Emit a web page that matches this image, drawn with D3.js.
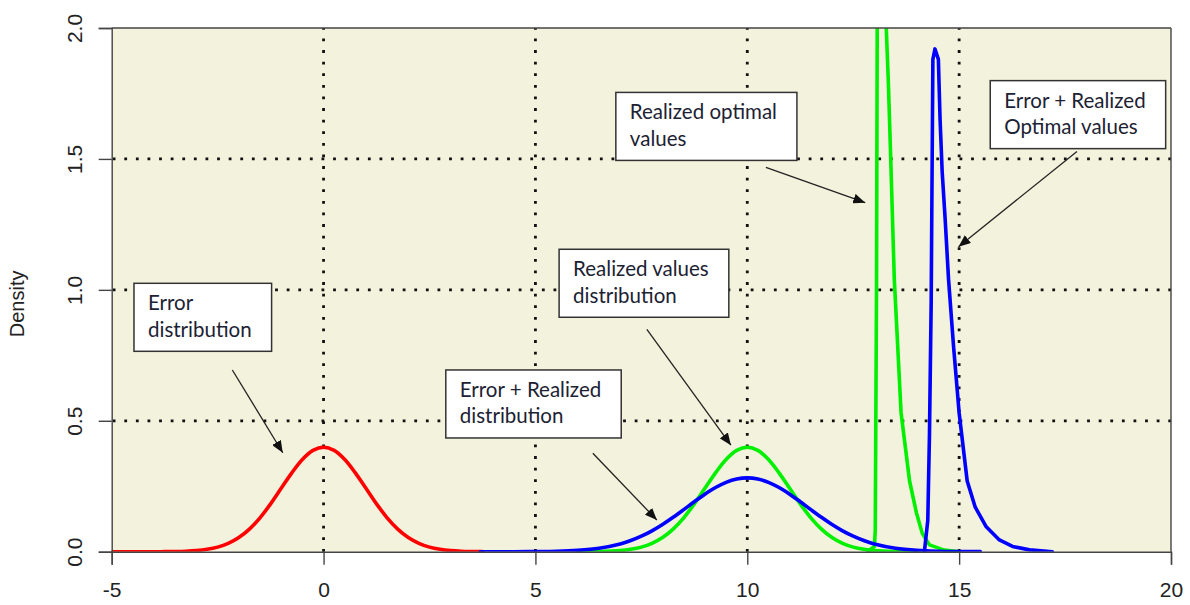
<!DOCTYPE html>
<html>
<head>
<meta charset="utf-8">
<script src="https://cdn.jsdelivr.net/npm/d3@7"></script>
<style>
  html, body { margin: 0; padding: 0; background: #ffffff; }
  svg { display: block; }
</style>
</head>
<body>
<svg id="chart" width="1190" height="605"></svg>
<script>
// Axis ticks
const xTicks = [-5, 0, 5, 10, 15, 20];
const yTicks = [0.0, 0.5, 1.0, 1.5, 2.0];
const xGrid = [0, 5, 10, 15];
const yGrid = [0.5, 1.0, 1.5];

// Error distribution (red)
const errX = [-5, -4.5, -4, -3.8, -3.75, -3.5, -3.25, -3, -2.75, -2.5, -2.25, -2, -1.75, -1.5, -1.25, -1, -0.75, -0.5, -0.25, 0,
              0.25, 0.5, 0.75, 1, 1.25, 1.5, 1.75, 2, 2.25, 2.5, 2.75, 3, 3.25, 3.5, 3.75];
const errY = [0.0, 0.0, 0.0, 0.0, 0.0004, 0.0009, 0.0020, 0.0044, 0.0091, 0.0175, 0.0317, 0.0540, 0.0863, 0.1295, 0.1826, 0.2420, 0.3011, 0.3521, 0.3867, 0.3989,
              0.3867, 0.3521, 0.3011, 0.2420, 0.1826, 0.1295, 0.0863, 0.0540, 0.0317, 0.0175, 0.0091, 0.0044, 0.0020, 0.0009, 0.0004];

// Realized values distribution (green)
const realX = [6.0, 6.5, 7.0, 7.25, 7.5, 7.75, 8.0, 8.25, 8.5, 8.75, 9.0, 9.25, 9.5, 9.75, 10.0,
               10.25, 10.5, 10.75, 11.0, 11.25, 11.5, 11.75, 12.0, 12.25, 12.5, 12.75, 13.0, 13.5, 14.0];
const realY = [0.0001, 0.0009, 0.0044, 0.0091, 0.0175, 0.0317, 0.0540, 0.0863, 0.1295, 0.1826, 0.2420, 0.3011, 0.3521, 0.3867, 0.3989,
               0.3867, 0.3521, 0.3011, 0.2420, 0.1826, 0.1295, 0.0863, 0.0540, 0.0317, 0.0175, 0.0091, 0.0044, 0.0009, 0.0001];

// Error + Realized distribution (blue)
const sumX = [3.7, 4.5, 5.0, 5.5, 6.0, 6.5, 7.0, 7.25, 7.5, 7.75, 8.0, 8.25, 8.5, 8.75, 9.0, 9.25, 9.5, 9.75, 10.0,
              10.25, 10.5, 10.75, 11.0, 11.25, 11.5, 11.75, 12.0, 12.25, 12.5, 12.75, 13.0, 13.5, 14.0, 14.5, 15.0, 15.5];
const sumY = [0.0, 0.00005, 0.0005, 0.0015, 0.0052, 0.0132, 0.0297, 0.0426, 0.0591, 0.0796, 0.1038, 0.1312, 0.1607, 0.1909, 0.2197, 0.2451, 0.2650, 0.2777, 0.2821,
              0.2777, 0.2650, 0.2451, 0.2197, 0.1909, 0.1607, 0.1312, 0.1038, 0.0796, 0.0591, 0.0426, 0.0297, 0.0132, 0.0052, 0.0018, 0.0005, 0.0001];

// Realized optimal values (green spike, peak runs above the plot)
const optX = [12.85, 13.0, 13.02, 13.05, 13.07, 13.17, 13.27, 13.28, 13.33, 13.38, 13.47, 13.63, 13.83, 13.99, 14.13, 14.3, 14.65, 15.0];
const optY = [0.002, 0.02, 0.08, 1.0, 2.2, 3.0, 2.1, 2.0, 1.79, 1.53, 1.04, 0.53, 0.27, 0.15, 0.07, 0.026, 0.006, 0.0];

// Error + Realized optimal values (blue spike)
const sumOptX = [14.18, 14.26, 14.30, 14.34, 14.38, 14.43, 14.51, 14.55, 14.60, 14.67, 14.75, 14.87, 15.0, 15.19, 15.38, 15.64, 15.95, 16.26, 16.66, 17.2];
const sumOptY = [0.0, 0.12, 0.45, 0.95, 1.88, 1.92, 1.88, 1.65, 1.45, 1.27, 1.04, 0.78, 0.53, 0.27, 0.17, 0.095, 0.045, 0.02, 0.007, 0.0];

// Callouts: text lines, box corner (data units), arrow tail and head (data units)
const noteLines = [
  ["Error", "distribution"],
  ["Error + Realized", "distribution"],
  ["Realized values", "distribution"],
  ["Realized optimal", "values"],
  ["Error + Realized", "Optimal values"]
];
const noteBoxX = [-4.474, 2.885, 5.559, 6.898, 15.734];
const noteBoxY = [1.025, 0.694, 1.155, 1.754, 1.799];
const arrowFromX = [-2.153, 6.355, 7.630, 10.439, 17.781];
const arrowFromY = [0.694, 0.376, 0.849, 1.468, 1.528];
const arrowToX = [-0.963, 7.866, 9.613, 12.784, 14.986];
const arrowToY = [0.378, 0.121, 0.407, 1.333, 1.165];

const svg = d3.select("#chart");
const pLeft = 111.7, pRight = 1171, pTop = 28, pBottom = 551.7;

const x = d3.scaleLinear().domain([-5, 20]).range([pLeft, pRight]);
const y = d3.scaleLinear().domain([0, 2]).range([pBottom, pTop]);

// Panel background
svg.append("rect")
  .attr("x", pLeft).attr("y", pTop)
  .attr("width", pRight - pLeft).attr("height", pBottom - pTop)
  .attr("fill", "#f3f2dc");

const defs = svg.append("defs");
defs.append("clipPath").attr("id", "plotClip")
  .append("rect").attr("x", pLeft).attr("y", pTop)
  .attr("width", pRight - pLeft).attr("height", pBottom - pTop);

// Dotted grid
const grid = svg.append("g")
  .attr("stroke", "#111").attr("stroke-width", 2.8)
  .attr("stroke-dasharray", "2.8 8.8");
grid.selectAll("line.v").data(xGrid).join("line")
  .attr("class", "v")
  .attr("x1", d => x(d)).attr("x2", d => x(d))
  .attr("y1", pBottom).attr("y2", pTop);
grid.selectAll("line.h").data(yGrid).join("line")
  .attr("class", "h")
  .attr("x1", pLeft + 1).attr("x2", pRight)
  .attr("y1", d => y(d)).attr("y2", d => y(d));

// Density curves
const plot = svg.append("g").attr("clip-path", "url(#plotClip)");
const smooth = d3.line().x(d => x(d[0])).y(d => y(d[1])).curve(d3.curveCatmullRom.alpha(0.5));
const straight = d3.line().x(d => x(d[0])).y(d => y(d[1]));
const pairs = (xs, ys) => xs.map((v, i) => [v, ys[i]]);

const curves = [
  { pts: pairs(errX, errY), color: "#ff0000", gen: smooth },
  { pts: pairs(realX, realY), color: "#00f000", gen: smooth },
  { pts: pairs(optX, optY), color: "#00f000", gen: straight },
  { pts: pairs(sumX, sumY), color: "#0000ff", gen: smooth },
  { pts: pairs(sumOptX, sumOptY), color: "#0000ff", gen: straight }
];
plot.selectAll("path.curve").data(curves).join("path")
  .attr("class", "curve")
  .attr("d", d => d.gen(d.pts))
  .attr("fill", "none")
  .attr("stroke", d => d.color)
  .attr("stroke-width", 3.6)
  .attr("stroke-linejoin", "round")
  .attr("stroke-linecap", "round");

// Frame (top and right) plus axes
const frame = svg.append("g").attr("stroke", "#444").attr("stroke-width", 1.4).attr("fill", "none");
frame.append("line").attr("x1", pLeft).attr("x2", pRight).attr("y1", pTop).attr("y2", pTop);
frame.append("line").attr("x1", pRight).attr("x2", pRight).attr("y1", pTop).attr("y2", pBottom);

const xAxis = svg.append("g")
  .attr("transform", `translate(0,${pBottom})`)
  .call(d3.axisBottom(x).tickValues(xTicks).tickSize(13).tickPadding(17).tickFormat(d => String(d)));
const yAxis = svg.append("g")
  .attr("transform", `translate(${pLeft},0)`)
  .call(d3.axisLeft(y).tickValues(yTicks).tickSize(13).tickFormat(d => d.toFixed(1)));

[xAxis, yAxis].forEach(g => {
  g.select(".domain").attr("stroke", "#444").attr("stroke-width", 1.4);
  g.selectAll(".tick line").attr("stroke", "#444").attr("stroke-width", 1.4);
  g.selectAll(".tick text")
    .attr("fill", "#222")
    .style("font-family", "'Liberation Sans', Arial, sans-serif")
    .style("font-size", "21px");
});
xAxis.selectAll(".tick text").attr("dy", "0.71em");
yAxis.selectAll(".tick text")
  .attr("x", null).attr("dy", null)
  .attr("text-anchor", "middle")
  .attr("transform", "translate(-30,0) rotate(-90)");

svg.append("text")
  .attr("transform", `translate(24,${(pTop + pBottom) / 2 + 14}) rotate(-90)`)
  .attr("text-anchor", "middle")
  .attr("fill", "#222")
  .style("font-family", "'Liberation Sans', Arial, sans-serif")
  .style("font-size", "20px")
  .text("Density");

// Callout arrows
defs.append("marker")
  .attr("id", "arrowHead")
  .attr("viewBox", "0 0 12 10")
  .attr("refX", 12).attr("refY", 5)
  .attr("markerWidth", 12).attr("markerHeight", 10)
  .attr("markerUnits", "userSpaceOnUse")
  .attr("orient", "auto")
  .append("path").attr("d", "M0,0 L12,5 L0,10 Z").attr("fill", "#111");

const notes = noteLines.map((lines, i) => ({
  lines, bx: noteBoxX[i], by: noteBoxY[i],
  fx: arrowFromX[i], fy: arrowFromY[i], tx: arrowToX[i], ty: arrowToY[i]
}));

svg.selectAll("line.arrow").data(notes).join("line")
  .attr("class", "arrow")
  .attr("x1", d => x(d.fx)).attr("y1", d => y(d.fy))
  .attr("x2", d => x(d.tx)).attr("y2", d => y(d.ty))
  .attr("stroke", "#222").attr("stroke-width", 1.3)
  .attr("marker-end", "url(#arrowHead)");

// Callout boxes
const boxes = svg.selectAll("g.note").data(notes).join("g")
  .attr("class", "note")
  .attr("transform", d => `translate(${x(d.bx)},${y(d.by)})`);

boxes.append("text")
  .attr("fill", "#1c2233")
  .style("font-family", "Lato, 'Open Sans', sans-serif")
  .style("font-size", "20.5px")
  .selectAll("tspan").data(d => d.lines).join("tspan")
  .attr("x", 14).attr("y", (d, i) => 27 + i * 26.5)
  .text(d => d);

boxes.each(function () {
  const g = d3.select(this);
  const bb = g.select("text").node().getBBox();
  g.insert("rect", "text")
    .attr("x", 0).attr("y", 0)
    .attr("width", bb.x + bb.width + 20)
    .attr("height", 68)
    .attr("fill", "#ffffff")
    .attr("stroke", "#333")
    .attr("stroke-width", 1.5);
});
</script>
</body>
</html>
